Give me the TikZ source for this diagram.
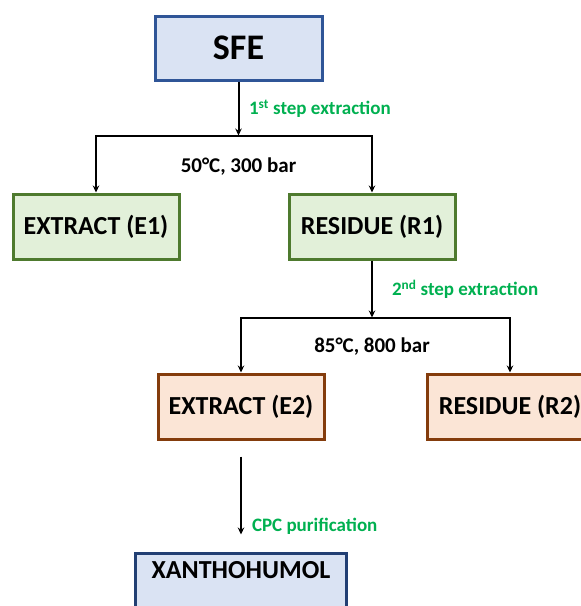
\documentclass[tikz,border=0pt]{standalone}
\usepackage{fontspec}
\setmainfont{Carlito}
\usepackage{xcolor}
\usepackage{tikz}
\usetikzlibrary{arrows.meta, positioning}
\definecolor{sfeblue}{HTML}{DAE3F3}
\definecolor{sfeline}{HTML}{2F5597}
\definecolor{xanline}{HTML}{223F73}
\definecolor{resgreen}{HTML}{E2F0D9}
\definecolor{resline}{HTML}{4E7A2E}
\definecolor{extorange}{HTML}{FBE5D6}
\definecolor{extline}{HTML}{843C0C}
\definecolor{stepgreen}{HTML}{00B050}
\tikzset{
  flowbox/.style={draw, line width=3pt, align=center, inner sep=0pt,
                  font=\fontsize{26}{30}\selectfont\bfseries,
                  minimum width=166pt, minimum height=65pt},
  sourcebox/.style={flowbox, fill=sfeblue, draw=sfeline,
                    font=\fontsize{36}{40}\selectfont\bfseries,
                    minimum width=167pt, minimum height=64pt},
  firstbox/.style={flowbox, fill=resgreen, draw=resline},
  secondbox/.style={flowbox, fill=extorange, draw=extline},
  productbox/.style={flowbox, fill=sfeblue, draw=xanline, minimum width=211pt,
                     minimum height=0pt, text height=25pt, text depth=43pt},
  flowarrow/.style={-{Stealth[length=7pt, width=6.5pt]}, line width=2pt, black},
  steplabel/.style={font=\fontsize{19}{22}\selectfont\bfseries, text=stepgreen, inner sep=0pt},
  condlabel/.style={font=\fontsize{21}{24}\selectfont\bfseries, text=black, inner sep=0pt}
}

\begin{document}
\begin{tikzpicture}[x=1pt, y=-1pt]
\useasboundingbox (0,0) rectangle (581,606);
\clip (0,0) rectangle (581,606);

% Supercritical extraction
\node[sourcebox] (sfe) at (238.5,48) {SFE};

% First step
\node[firstbox, below=111pt of sfe, xshift=-142.5pt] (e1) {EXTRACT (E1)};
\node[firstbox, right=107pt of e1] (r1) {RESIDUE (R1)};
\coordinate (j1) at ([yshift=-54pt]sfe.south);

% Second step
\node[secondbox, below=112pt of r1, xshift=-131pt] (e2) {EXTRACT (E2)};
\node[secondbox, right=100pt of e2] (r2) {RESIDUE (R2)};
\coordinate (j2) at ([yshift=-57pt]r1.south);

% Purification
\node[productbox, below=111pt of e2] (xanth) {XANTHOHUMOL};

% Arrows
\draw[flowarrow] (sfe) -- (j1) node[steplabel, midway, right=9.5pt] {1\textsuperscript{st} step extraction};
\draw[flowarrow] (j1) -| (e1);
\draw[flowarrow] (j1) -| (r1);
\draw[flowarrow] (r1) -- (j2) node[steplabel, midway, right=19pt] {2\textsuperscript{nd} step extraction};
\draw[flowarrow] (j2) -| (e2);
\draw[flowarrow] (j2) -| (r2);
\draw[flowarrow, shorten <=16pt, shorten >=17pt] (e2) -- (xanth)
  node[steplabel, pos=0.77, right=10pt] {CPC purification};

% Conditions
\node[condlabel] (cond1) at ([yshift=-31pt]j1) {50°C, 300 bar};
\node[condlabel] (cond2) at ([yshift=-29pt]j2) {85°C, 800 bar};

\end{tikzpicture}
\end{document}
